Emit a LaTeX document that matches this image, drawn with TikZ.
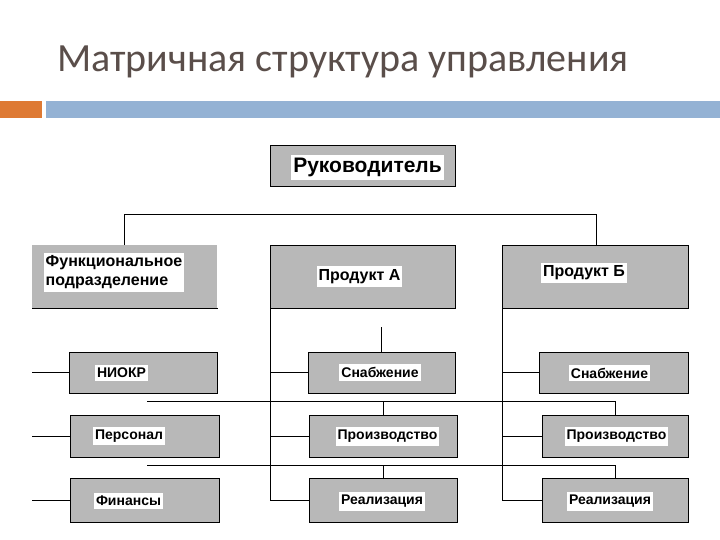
\documentclass[tikz,border=0pt]{standalone}
\usepackage{fontspec}
\setmainfont{Liberation Sans}
\newfontfamily\titlefont{Carlito}
\definecolor{titlecol}{RGB}{90,78,74}
\definecolor{barorange}{RGB}{222,122,52}
\definecolor{barblue}{RGB}{148,178,212}
\definecolor{boxgray}{RGB}{184,184,184}
\begin{document}
\begin{tikzpicture}[x=1pt,y=-1pt,
  gbox/.style={rectangle, fill=boxgray, draw=black, line width=0.7pt, anchor=north west, inner sep=0pt},
  lbl/.style={fill=white, inner xsep=2pt, inner ysep=3pt, font=\bfseries\fontsize{14}{16}\selectfont},
  lblbig/.style={lbl, font=\bfseries\fontsize{16}{19}\selectfont},
  conn/.style={line width=1pt, black}]
\useasboundingbox (0,0) rectangle (720,540);
% title and bar
\node[anchor=base west, inner sep=0pt, text=titlecol, font=\titlefont\fontsize{40}{44}\selectfont] (title) at (57,72) {Матричная структура управления};
\fill[barorange] (0,101) rectangle (42,118);
\fill[barblue] (46,101) rectangle (720,118);
% boxes
\node[gbox, minimum width=185, minimum height=41] (ruk) at (270,145) {};
\node[lbl, font=\bfseries\fontsize{21}{24}\selectfont] (rukt) at (367.5,167.5) {Руководитель};
\node[gbox, draw=none, minimum width=185, minimum height=63] (fp) at (32,245) {};
\draw[line width=0.7pt] (fp.south west) -- (fp.south east);
\node[lblbig, align=left] (fpt) at (114,272.5) {Функциональное\\подразделение};
\node[gbox, minimum width=185, minimum height=63] (pra) at (270,245) {};
\node[lblbig] (prat) at (359.5,276.5) {Продукт А};
\node[gbox, minimum width=186, minimum height=63] (prb) at (502,245) {};
\node[lblbig] (prbt) at (584,273) {Продукт Б};
% left column
\node[gbox, minimum width=148, minimum height=41] (niokr) at (69,352) {};
\node[lbl] (niokrt) at (121.5,373) {НИОКР};
\node[gbox, minimum width=149, minimum height=42] (pers) at (70,415) {};
\node[lbl] (perst) at (129,436) {Персонал};
\node[gbox, minimum width=149, minimum height=44] (fin) at (70,478) {};
\node[lbl] (fint) at (128.5,501) {Финансы};
% middle column
\node[gbox, minimum width=147, minimum height=41] (sA) at (308,352) {};
\node[lbl] (sAt) at (380,372.5) {Снабжение};
\node[gbox, minimum width=148, minimum height=42] (pA) at (309,415) {};
\node[lbl] (pAt) at (387.5,436.5) {Производство};
\node[gbox, minimum width=148, minimum height=44] (rA) at (309,478) {};
\node[lbl] (rAt) at (382,501.5) {Реализация};
% right column
\node[gbox, minimum width=149, minimum height=41] (sB) at (539,352) {};
\node[lbl] (sBt) at (609.5,373) {Снабжение};
\node[gbox, minimum width=146, minimum height=42] (pB) at (542,415) {};
\node[lbl] (pBt) at (616.5,436.5) {Производство};
\node[gbox, minimum width=146, minimum height=44] (rB) at (542,478) {};
\node[lbl] (rBt) at (610,501.5) {Реализация};
% connectors
\coordinate (hl) at (124,215);
\coordinate (hr) at (596,215);
\draw[conn] (fp.north -| hl) -- (hl) -- (hr) -- (prb.north -| hr);
\draw[conn] (pra.south west) -- (pra.south west |- rA.west) -- (rA.west);
\draw[conn] (pra.south west |- sA.west) -- (sA.west);
\draw[conn] (pra.south west |- pA.west) -- (pA.west);
\draw[conn] (prb.south west) -- (prb.south west |- rB.west) -- (rB.west);
\draw[conn] (prb.south west |- sB.west) -- (sB.west);
\draw[conn] (prb.south west |- pB.west) -- (pB.west);
\coordinate (stub) at (381,327);
\draw[conn] (stub) -- (stub |- sA.north);
\coordinate (h1) at (147,401);
\coordinate (h2) at (147,465);
\draw[conn] (h1) -- (pB.north |- h1) -- (pB.north);
\draw[conn] (pA.north |- h1) -- (pA.north);
\draw[conn] (h2) -- (rB.north |- h2) -- (rB.north);
\draw[conn] (rA.north |- h2) -- (rA.north);
\coordinate (l1) at (32,372);
\coordinate (l2) at (32,437);
\coordinate (l3) at (32,501);
\draw[conn] (l1 |- niokr.west) -- (niokr.west);
\draw[conn] (l2 |- pers.west) -- (pers.west);
\draw[conn] (l3 |- fin.west) -- (fin.west);
\end{tikzpicture}
\end{document}
